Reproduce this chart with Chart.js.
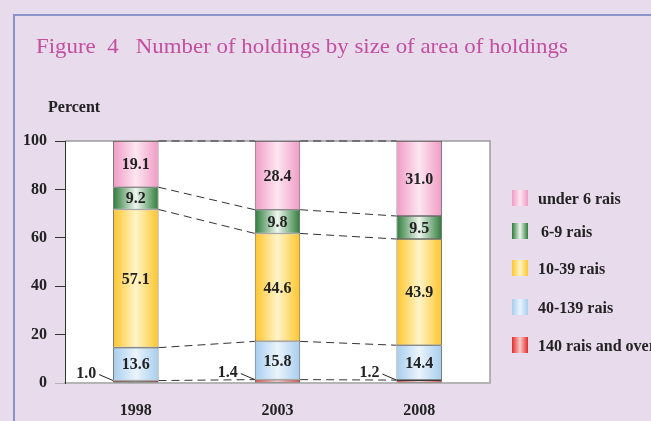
<!DOCTYPE html>
<html>
<head>
<meta charset="utf-8">
<title>Number of holdings by size of area of holdings</title>
<script src="https://cdn.jsdelivr.net/npm/chart.js@4"></script>
<style>
  html, body { margin: 0; padding: 0; background: #e7dbec; }
  canvas { display: block; }
</style>
</head>
<body>
<canvas id="holdingsChart" width="651" height="421"></canvas>
<script>
// Data (percent of holdings)
const years = ['1998', '2003', '2008'];
const sizeGroups = ['140 rais and over', '40-139 rais', '10-39 rais', '6-9 rais', 'under 6 rais'];
const over140 = [1.0, 1.4, 1.2];
const from40to139 = [13.6, 15.8, 14.4];
const from10to39 = [57.1, 44.6, 43.9];
const from6to9 = [9.2, 9.8, 9.5];
const under6 = [19.1, 28.4, 31.0];
const yTicks = [0, 20, 40, 60, 80, 100];

// edge colour / centre colour for the shaded bars, same order as sizeGroups
const shades = [
    ['#e32b2b', '#f9cbcb'],
    ['#a7cdee', '#eaf4fc'],
    ['#ffc52b', '#fff4c8'],
    ['#2e7c3a', '#eef6ee'],
    ['#f09bc5', '#fde6f1']
];
const BAR_PCT = 0.32;
const FONT = '"Liberation Serif", "Times New Roman", serif';

function barShade(i) {
    return function (ctx) {
        const chart = ctx.chart;
        if (!chart.chartArea || ctx.type !== 'data') return shades[i][0];
        const x = chart.scales.x.getPixelForValue(ctx.dataIndex);
        const half = chart.chartArea.width / years.length * BAR_PCT / 2;
        const g = chart.ctx.createLinearGradient(x - half, 0, x + half, 0);
        g.addColorStop(0, shades[i][0]);
        g.addColorStop(0.5, shades[i][1]);
        g.addColorStop(1, shades[i][0]);
        return g;
    };
}

const seriesValues = [over140, from40to139, from10to39, from6to9, under6];

// background, frame, title, dashed links, value labels, legend
const decor = {
    id: 'decor',
    beforeDraw(chart) {
        const c = chart.ctx, a = chart.chartArea;
        c.save();
        c.fillStyle = '#e7dbec';
        c.fillRect(0, 0, chart.width, chart.height);
        c.strokeStyle = '#8a93c9';
        c.lineWidth = 2;
        c.beginPath();
        c.moveTo(14, chart.height);
        c.lineTo(14, 15);
        c.lineTo(chart.width, 15);
        c.stroke();
        c.fillStyle = '#ffffff';
        c.fillRect(a.left, a.top, a.width, a.height);
        c.strokeStyle = '#9c9c9c';
        c.lineWidth = 1.5;
        c.beginPath();
        c.moveTo(a.left, a.top);
        c.lineTo(a.right, a.top);
        c.lineTo(a.right, a.bottom);
        c.stroke();

        c.textBaseline = 'middle';
        c.fillStyle = '#c24f9f';
        c.font = '22px ' + FONT;
        c.save();
        c.translate(36, 47);
        c.scale(1.04, 1);
        c.fillText('Figure  4   Number of holdings by size of area of holdings', 0, 0);
        c.restore();
        c.fillStyle = '#222';
        c.font = 'bold 16px ' + FONT;
        c.fillText('Percent', 48, 108);
        c.restore();
    },
    beforeDatasetsDraw(chart) {
        const c = chart.ctx;
        c.save();
        c.strokeStyle = '#333';
        c.lineWidth = 1;
        c.setLineDash([8, 5]);
        chart.data.datasets.forEach((ds, d) => {
            const bars = chart.getDatasetMeta(d).data;
            for (let j = 0; j < bars.length - 1; j++) {
                const p = bars[j], q = bars[j + 1];
                c.beginPath();
                c.moveTo(p.x + p.width / 2, p.y);
                c.lineTo(q.x - q.width / 2, q.y);
                c.stroke();
            }
        });
        c.restore();
    },
    afterDatasetsDraw(chart) {
        const c = chart.ctx;
        c.save();
        c.fillStyle = '#222';
        c.strokeStyle = '#222';
        c.lineWidth = 1;
        c.font = 'bold 16px ' + FONT;
        c.textAlign = 'center';
        c.textBaseline = 'middle';
        chart.data.datasets.forEach((ds, d) => {
            chart.getDatasetMeta(d).data.forEach((bar, j) => {
                const v = ds.data[j];
                if (v >= 5) {
                    c.fillText(v.toFixed(1), bar.x, (bar.y + bar.base) / 2 + 1);
                } else {
                    const left = bar.x - bar.width / 2;
                    c.fillText(v.toFixed(1), left - 27, bar.y - 7);
                    c.beginPath();
                    c.moveTo(left - 14, bar.y - 6);
                    c.lineTo(left, bar.y);
                    c.stroke();
                }
            });
        });
        c.restore();
    },
    afterDraw(chart) {
        const c = chart.ctx;
        const boxTops = [190, 223, 260, 299, 337];
        c.save();
        c.font = 'bold 16px ' + FONT;
        c.textBaseline = 'middle';
        c.fillStyle = '#222';
        for (let k = 0; k < sizeGroups.length; k++) {
            const i = sizeGroups.length - 1 - k;
            const top = boxTops[k];
            const g = c.createLinearGradient(512, 0, 528, 0);
            g.addColorStop(0, shades[i][0]);
            g.addColorStop(0.5, shades[i][1]);
            g.addColorStop(1, shades[i][0]);
            c.fillStyle = g;
            c.fillRect(512, top, 16, 16);
            c.fillStyle = '#222';
            c.fillText(sizeGroups[i], i === 3 ? 541 : 538, top + 10);
        }
        c.restore();
    }
};

const ctx = document.getElementById('holdingsChart').getContext('2d');
const holdingsChart = new Chart(ctx, {
    type: 'bar',
    data: {
        labels: years,
        datasets: sizeGroups.map((name, i) => ({
            label: name,
            data: seriesValues[i],
            backgroundColor: barShade(i),
            borderColor: '#3a3a3a',
            borderWidth: 0.8,
            borderSkipped: false,
            barPercentage: BAR_PCT,
            categoryPercentage: 1
        }))
    },
    options: {
        responsive: false,
        animation: false,
        layout: {
            padding: { top: 141, right: 161, bottom: 0, left: 0 }
        },
        plugins: {
            legend: { display: false },
            title: { display: false },
            tooltip: { enabled: false }
        },
        scales: {
            x: {
                stacked: true,
                grid: { display: false, drawTicks: false },
                border: { display: true, color: '#b4b4b4', width: 2 },
                ticks: {
                    color: '#222',
                    padding: 18,
                    font: { family: FONT, size: 16, weight: 'bold' }
                },
                afterFit(scale) { scale.height = 38; }
            },
            y: {
                stacked: true,
                min: 0,
                max: 100,
                afterBuildTicks(scale) {
                    scale.ticks = yTicks.map(v => ({ value: v }));
                },
                grid: {
                    drawOnChartArea: false,
                    drawTicks: true,
                    tickLength: 10,
                    tickColor: c => (c.tick && c.tick.value === 0 ? '#b4b4b4' : '#333')
                },
                border: { display: true, color: '#333', width: 1 },
                ticks: {
                    color: '#222',
                    padding: 8,
                    font: { family: FONT, size: 16, weight: 'bold' }
                },
                afterFit(scale) { scale.width = 65; }
            }
        }
    },
    plugins: [decor]
});
</script>
</body>
</html>
